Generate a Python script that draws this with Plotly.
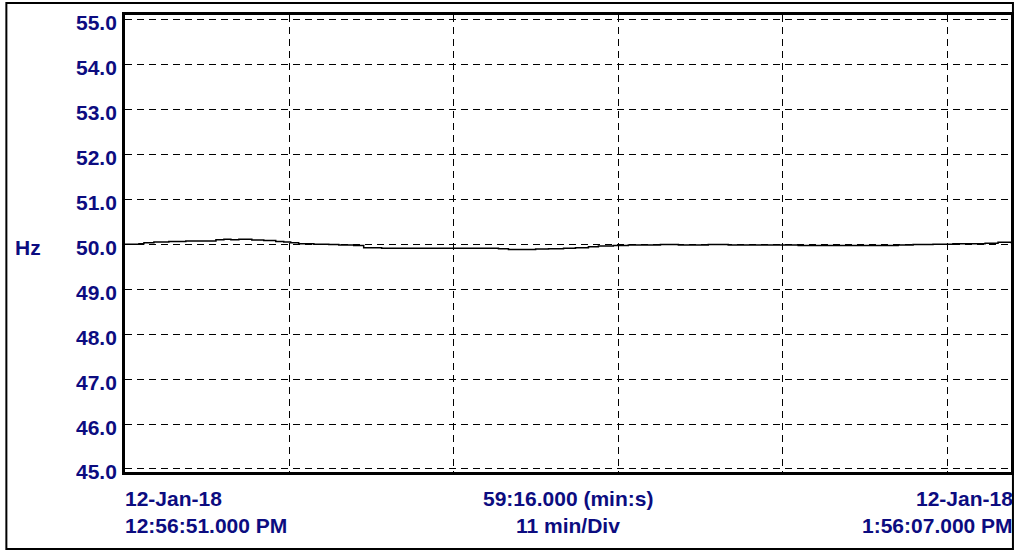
import plotly.graph_objects as go

# Time (seconds from 12:56:51 PM) and frequency (Hz)
t_sec = [0, 56, 76, 116, 176, 244, 297, 365, 397, 425, 457, 509, 557, 605, 637, 665,
         697, 758, 818, 858, 918, 958, 1030, 1098, 1179, 1259, 1339, 1419, 1499, 1539,
         1600, 1648, 1700, 1760, 1808, 1860, 1900, 1960, 2020, 2081, 2149, 2221, 2301,
         2341, 2421, 2501, 2582, 2662, 2702, 2782, 2862, 2942, 3022, 3103, 3163, 3243,
         3323, 3384, 3452, 3504, 3544, 3556]
freq_hz = [50.00, 50.01, 50.03, 50.05, 50.06, 50.07, 50.07, 50.10, 50.11, 50.10, 50.11,
           50.09, 50.08, 50.06, 50.05, 50.03, 50.01, 50.00, 49.99, 49.98, 49.97, 49.92,
           49.91, 49.91, 49.91, 49.91, 49.91, 49.91, 49.90, 49.88, 49.88, 49.89, 49.90,
           49.91, 49.92, 49.94, 49.96, 49.97, 49.98, 49.98, 49.99, 49.98, 49.98, 49.99,
           49.98, 49.98, 49.98, 49.98, 49.97, 49.97, 49.97, 49.97, 49.97, 49.98, 49.99,
           50.00, 50.01, 50.01, 50.02, 50.04, 50.04, 50.02]

y_ticks = [45.0, 46.0, 47.0, 48.0, 49.0, 50.0, 51.0, 52.0, 53.0, 54.0, 55.0]
y_tick_labels = ["45.0", "46.0", "47.0", "48.0", "49.0", "50.0", "51.0", "52.0", "53.0", "54.0", "55.0"]
x_span_sec = 3556
x_div_sec = 660
unit_label = "Hz"
start_labels = ["12-Jan-18", "12:56:51.000 PM"]
mid_labels = ["59:16.000 (min:s)", "11 min/Div"]
end_labels = ["12-Jan-18", "1:56:07.000 PM"]

NAVY = "#0c0c80"
FONT = "Liberation Sans, Arial, sans-serif"
FS = 21

fig = go.Figure()
fig.add_trace(go.Scatter(x=t_sec, y=freq_hz, mode="lines", line=dict(color="black", width=1.5, shape="hv"),
                         hoverinfo="skip", showlegend=False))

fig.update_layout(
    width=1017, height=552,
    margin=dict(l=125, r=3, t=15, b=80),
    paper_bgcolor="white", plot_bgcolor="white",
    font=dict(family=FONT, size=FS, color=NAVY),
    showlegend=False,
)
fig.update_xaxes(range=[0, x_span_sec], tick0=0, dtick=x_div_sec, showticklabels=False, ticks="",
                 showgrid=True, gridcolor="black", gridwidth=1, griddash="7px,5px",
                 showline=True, linecolor="black", linewidth=3, mirror=True, zeroline=False)
fig.update_yaxes(range=[44.933, 55.096], tickvals=y_ticks, showticklabels=False, ticks="",
                 showgrid=True, gridcolor="black", gridwidth=1, griddash="7px,5px",
                 showline=True, linecolor="black", linewidth=3, mirror=True, zeroline=False)

anns = []
for v, lab in zip(y_ticks, y_tick_labels):
    anns.append(dict(x=0, xref="paper", y=v, yref="y", text=f"<b>{lab}</b>", showarrow=False,
                     xanchor="right", yanchor="middle", xshift=-6, yshift=-3))
anns.append(dict(x=-0.109, xref="paper", y=50.0, yref="y", text=f"<b>{unit_label}</b>", showarrow=False,
                 xanchor="center", yanchor="middle", yshift=-3))
row_y = [-0.059, -0.116]
for i in range(2):
    anns.append(dict(x=0, xref="paper", y=row_y[i], yref="paper", text=f"<b>{start_labels[i]}</b>",
                     showarrow=False, xanchor="left", yanchor="middle", xshift=-2))
    anns.append(dict(x=0.5, xref="paper", y=row_y[i], yref="paper", text=f"<b>{mid_labels[i]}</b>",
                     showarrow=False, xanchor="center", yanchor="middle"))
    anns.append(dict(x=1, xref="paper", y=row_y[i], yref="paper", text=f"<b>{end_labels[i]}</b>",
                     showarrow=False, xanchor="right", yanchor="middle", xshift=4))
fig.update_layout(annotations=anns)

fig.add_shape(type="rect", xref="paper", yref="paper", x0=-0.1339, x1=1.0022, y0=-0.1685, y1=1.0263,
              line=dict(color="black", width=2), fillcolor="rgba(0,0,0,0)", layer="below")

fig.write_html("out.html", config={"displayModeBar": False},
               post_script="document.body.style.margin='0';")
